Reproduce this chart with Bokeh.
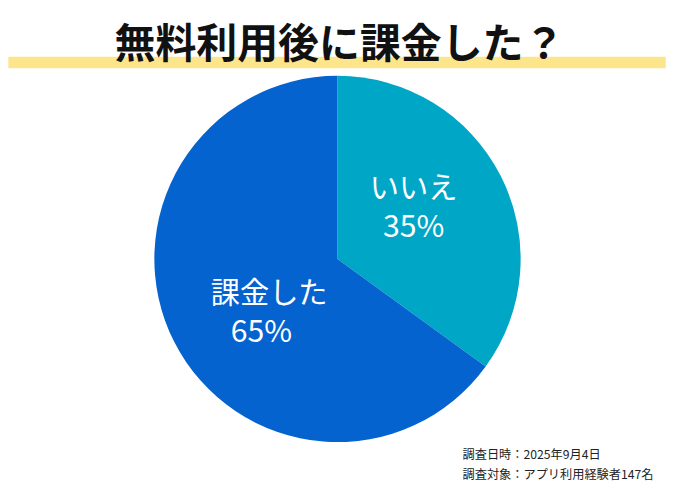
import math
from bokeh.plotting import figure
from bokeh.models import Range1d, ColumnDataSource
from bokeh.core.properties import value
from bokeh.embed import file_html
from bokeh.resources import INLINE

# ---- data ----
title_text = "無料利用後に課金した？"
categories = ["いいえ", "課金した"]
percents = [35, 65]
colors = ["#00A6C6", "#0563D0"]
notes = ["調査日時：2025年9月4日", "調査対象：アプリ利用経験者147名"]

# ---- layout (data coords: x = reference pixel x, y = 500 - reference pixel y) ----
W, H = 674, 484
FONT = "Noto Sans CJK JP"
fs = 0.975  # font scale (figure is slightly smaller than reference image)
cx, cy, R = 345, 500 - 267, 187.5

p = figure(width=W, height=H, output_backend="svg", toolbar_location=None,
           x_range=Range1d(0, 690), y_range=Range1d(0, 500),
           min_border=0, outline_line_color=None)
p.axis.visible = False
p.grid.visible = False
p.background_fill_color = "white"
p.border_fill_color = "white"

def px(v):
    return f"{v * fs:.1f}px"

# title highlight band
p.quad(left=[8], right=[681], bottom=[500 - 70], top=[500 - 58],
       fill_color="#FCE58A", line_color=None)
p.text(x=[347], y=[500 - 41], text=[title_text], text_font=value(FONT),
       text_font_style="bold", text_font_size=px(42), text_color="#111111",
       text_align="center", text_baseline="middle")

# wedges: start at top, go clockwise
total = float(sum(percents))
starts, ends, mids = [], [], []
acc = 0.0
for v in percents:
    a0 = math.pi / 2 - 2 * math.pi * acc / total
    acc += v
    a1 = math.pi / 2 - 2 * math.pi * acc / total
    starts.append(a0)
    ends.append(a1)
    mids.append((a0 + a1) / 2)

src = ColumnDataSource(dict(start=starts, end=ends, color=colors))
p.wedge(x=cx, y=cy, radius=R, start_angle="start", end_angle="end",
        direction="clock", fill_color="color", line_color=None, source=src)

# labels
label_r = 83
offsets = [(4, 19), (4, -14)]  # (dx, dy) fine-tuning of label block
for cat, pct, m, (dx, dy) in zip(categories, percents, mids, offsets):
    ax = cx + label_r * math.cos(m) + dx
    ay = cy + label_r * math.sin(m) + dy
    p.text(x=[ax], y=[ay + 20], text=[cat], text_font=value(FONT),
           text_font_size=px(30), text_color="white",
           text_align="center", text_baseline="middle")
    p.text(x=[ax - (0 if pct < 50 else 8)], y=[ay - 21], text=[f"{pct}%"],
           text_font=value(FONT), text_font_size=px(31), text_color="white",
           text_align="center", text_baseline="middle")

# footnotes
for i, t in enumerate(notes):
    p.text(x=[473], y=[500 - 468 - 21 * i], text=[t], text_font=value(FONT),
           text_font_size=px(12.5), text_color="#222222",
           text_align="left", text_baseline="middle")

open("out.html", "w").write(file_html(p, INLINE))
